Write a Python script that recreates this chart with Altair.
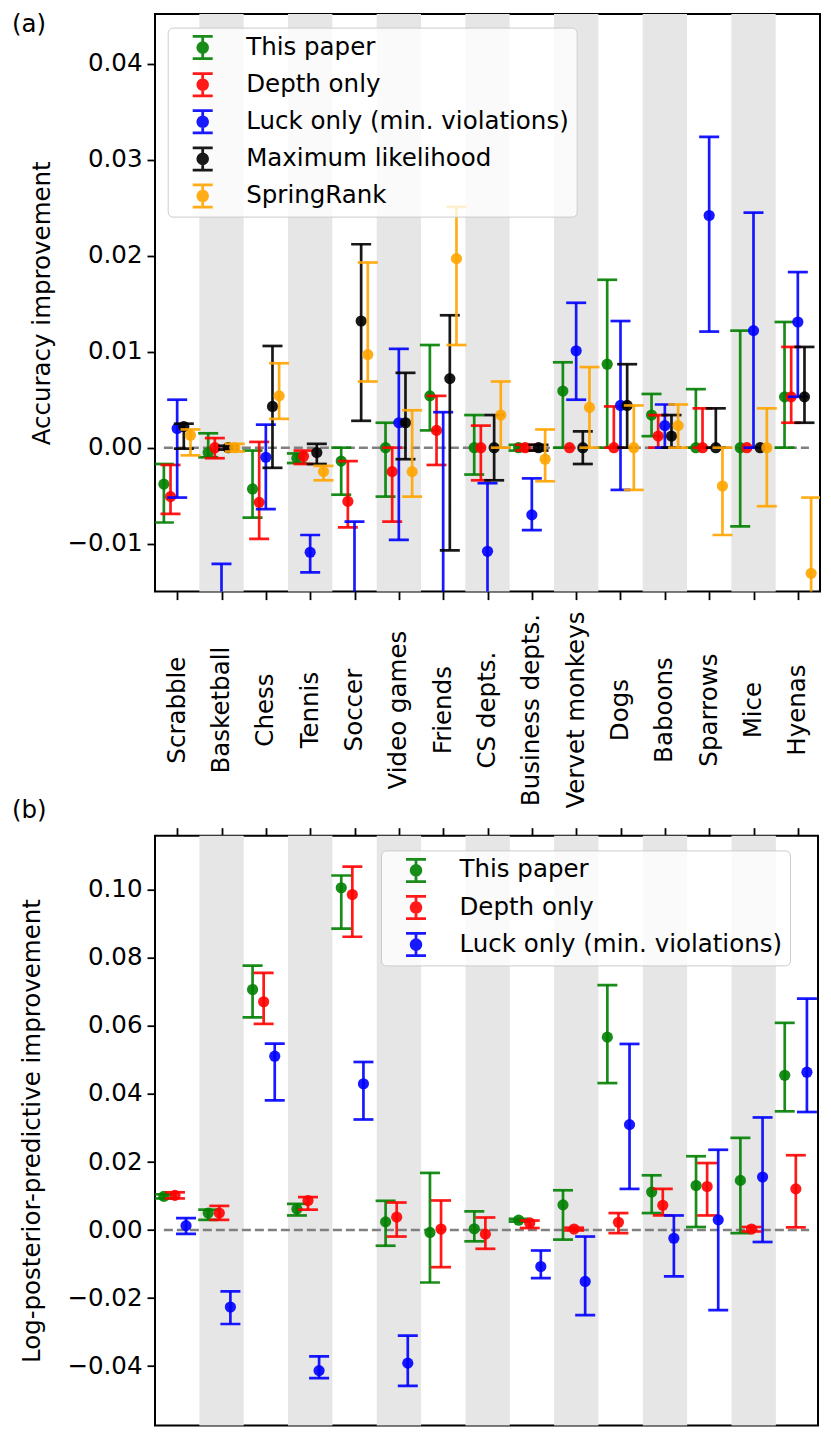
import json
import math
import altair as alt
import pandas as pd

categories = ["Scrabble", "Basketball", "Chess", "Tennis", "Soccer", "Video games", "Friends",
              "CS depts.", "Business depts.", "Vervet monkeys", "Dogs", "Baboons", "Sparrows",
              "Mice", "Hyenas"]

series_a = ["This paper", "Depth only", "Luck only (min. violations)", "Maximum likelihood", "SpringRank"]
colors_a = ["green", "red", "blue", "black", "orange"]
series_b = ["This paper", "Depth only", "Luck only (min. violations)"]
colors_b = ["green", "red", "blue"]

# ---- panel (a): accuracy improvement (value, lower, upper) ----
acc_this = [-0.0038, -0.0005, -0.0043, -0.0011, -0.0014, 0.0000, 0.0054, 0.0000, 0.0000, 0.0059, 0.0087, 0.0034, 0.0000, 0.0000, 0.0053]
acc_this_lo = [-0.0078, -0.0010, -0.0073, -0.0016, -0.0049, -0.0051, 0.0018, -0.0028, -0.0003, 0.0000, 0.0000, 0.0012, 0.0000, -0.0082, 0.0000]
acc_this_hi = [-0.0017, 0.0015, -0.0003, -0.0006, 0.0000, 0.0026, 0.0107, 0.0034, 0.0003, 0.0089, 0.0175, 0.0056, 0.0061, 0.0122, 0.0131]

acc_depth = [-0.0051, 0.0000, -0.0057, -0.0009, -0.0056, -0.0025, 0.0018, 0.0000, 0.0000, 0.0000, 0.0000, 0.0012, 0.0000, 0.0000, 0.0053]
acc_depth_lo = [-0.0069, -0.0011, -0.0095, -0.0017, -0.0083, -0.0077, -0.0018, -0.0034, -0.0003, None, 0.0000, 0.0000, 0.0000, None, 0.0026]
acc_depth_hi = [-0.0018, 0.0010, 0.0006, -0.0003, -0.0014, 0.0000, 0.0054, 0.0023, 0.0003, None, 0.0043, 0.0034, 0.0041, None, 0.0105]

acc_luck = [0.0020, -0.0200, -0.0010, -0.0109, -0.0220, 0.0026, -0.0180, -0.0108, -0.0070, 0.0101, 0.0044, 0.0023, 0.0242, 0.0122, 0.0131]
acc_luck_lo = [-0.0052, -0.0280, -0.0064, -0.0130, -0.0360, -0.0096, -0.0400, -0.0200, -0.0086, 0.0050, -0.0044, 0.0000, 0.0121, 0.0000, 0.0053]
acc_luck_hi = [0.0050, -0.0121, 0.0024, -0.0091, -0.0077, 0.0103, 0.0037, -0.0037, -0.0032, 0.0151, 0.0132, 0.0045, 0.0324, 0.0245, 0.0183]

acc_ml = [0.0022, 0.0000, 0.0043, -0.0005, 0.0132, 0.0026, 0.0072, 0.0000, 0.0000, 0.0000, 0.0044, 0.0012, 0.0000, 0.0000, 0.0053]
acc_ml_lo = [-0.0001, -0.0002, -0.0021, -0.0017, 0.0028, -0.0012, -0.0107, -0.0034, -0.0003, -0.0017, 0.0000, 0.0000, 0.0000, None, 0.0026]
acc_ml_hi = [0.0025, 0.0002, 0.0106, 0.0004, 0.0212, 0.0078, 0.0138, 0.0034, 0.0003, 0.0017, 0.0087, 0.0034, 0.0041, None, 0.0105]

acc_spring = [0.0013, 0.0000, 0.0054, -0.0025, 0.0097, -0.0025, 0.0197, 0.0034, -0.0012, 0.0042, 0.0000, 0.0023, -0.0040, 0.0000, -0.0131]
acc_spring_lo = [-0.0008, -0.0004, 0.0030, -0.0034, 0.0069, -0.0051, 0.0107, 0.0000, -0.0035, 0.0000, -0.0044, 0.0000, -0.0091, -0.0061, -0.0210]
acc_spring_hi = [0.0019, 0.0004, 0.0088, -0.0019, 0.0193, 0.0039, 0.0251, 0.0069, 0.0019, 0.0084, 0.0044, 0.0045, 0.0000, 0.0041, -0.0052]

# ---- panel (b): log-posterior-predictive improvement ----
lpp_this = [0.0099, 0.0050, 0.0707, 0.0062, 0.1006, 0.0024, -0.0007, 0.0004, 0.0029, 0.0074, 0.0567, 0.0112, 0.0131, 0.0146, 0.0455]
lpp_this_lo = [0.0093, 0.0030, 0.0625, 0.0043, 0.0886, -0.0046, -0.0154, -0.0033, 0.0025, -0.0028, 0.0432, 0.0050, 0.0009, -0.0009, 0.0349]
lpp_this_hi = [0.0105, 0.0060, 0.0777, 0.0077, 0.1042, 0.0086, 0.0168, 0.0055, 0.0033, 0.0117, 0.0720, 0.0161, 0.0217, 0.0271, 0.0609]

lpp_depth = [0.0102, 0.0050, 0.0671, 0.0087, 0.0986, 0.0038, 0.0003, -0.0012, 0.0021, 0.0003, 0.0023, 0.0073, 0.0128, 0.0003, 0.0121]
lpp_depth_lo = [0.0093, 0.0030, 0.0606, 0.0060, 0.0862, -0.0019, -0.0109, -0.0055, 0.0006, -0.0001, -0.0009, 0.0043, 0.0043, -0.0004, 0.0008]
lpp_depth_hi = [0.0111, 0.0071, 0.0756, 0.0097, 0.1068, 0.0081, 0.0087, 0.0037, 0.0028, 0.0007, 0.0050, 0.0121, 0.0197, 0.0009, 0.0220]

lpp_luck = [0.0013, -0.0226, 0.0511, -0.0413, 0.0430, -0.0391, None, None, -0.0107, -0.0151, 0.0310, -0.0024, 0.0030, 0.0156, 0.0464]
lpp_luck_lo = [-0.0011, -0.0276, 0.0381, -0.0435, 0.0325, -0.0458, None, None, -0.0141, -0.0250, 0.0121, -0.0136, -0.0235, -0.0035, 0.0347]
lpp_luck_hi = [0.0035, -0.0180, 0.0548, -0.0371, 0.0494, -0.0310, None, None, -0.0060, -0.0019, 0.0547, 0.0043, 0.0236, 0.0331, 0.0680]

ticks_a = [-0.01, 0.0, 0.01, 0.02, 0.03, 0.04]
ticks_b = [-0.04, -0.02, 0.0, 0.02, 0.04, 0.06, 0.08, 0.10]

FONT = "DejaVu Sans"
FS = 24.5

# legend glyph: error bar with caps and a dot (all filled shapes)
circ = "M" + "L".join(
    f"{0.5 * math.cos(2 * math.pi * k / 24):.3f},{0.5 * math.sin(2 * math.pi * k / 24):.3f}"
    for k in range(24)) + "Z"
SYM = "M-0.8,-1H0.8V-0.78H-0.8Z M-0.11,-1H0.11V1H-0.11Z M-0.8,0.78H0.8V1H-0.8Z " + circ


def make_legend(lx, ly):
    return alt.Legend(
        orient="none", legendX=lx, legendY=ly, direction="vertical", title=None,
        symbolType=SYM, symbolSize=625, symbolStrokeWidth=0, symbolOffset=15,
        labelOffset=31, labelFontSize=FS, labelFont=FONT, labelColor="black",
        labelLimit=1000, labelBaseline="middle", padding=7.5, rowPadding=11.1,
        fillColor="rgba(255,255,255,0.8)", strokeColor="#cccccc", cornerRadius=5)


def make_panel(names, colors, vals, los, his, offsets, xdom, ydom, yticks, width, height,
               legend, ytitle, title_pad, xaxis, tag, tag_y):
    rows = []
    for j, name in enumerate(names):
        for i in range(len(categories)):
            rows.append(dict(series=name, x=i + offsets[j], v=vals[j][i], lo=los[j][i], hi=his[j][i]))
    df = pd.DataFrame(rows)

    xs = alt.Scale(domain=xdom, nice=False, zero=False)
    ys = alt.Scale(domain=ydom, nice=False, zero=False)
    yaxis = alt.Axis(values=yticks, format=".2f", labelFontSize=FS, labelFont=FONT, labelColor="black",
                     titleFontSize=FS, titleFont=FONT, titleColor="black", titleFontWeight="normal",
                     title=ytitle, titlePadding=title_pad, tickSize=8, tickWidth=1.8, tickColor="black",
                     domain=False, grid=False, labelPadding=5)
    cscale = alt.Scale(domain=names, range=colors)

    bands_df = pd.DataFrame({"b0": [i - 0.5 for i in range(1, len(categories), 2)],
                             "b1": [i + 0.5 for i in range(1, len(categories), 2)]})
    zero_df = pd.DataFrame({"z0": [-0.3], "z1": [len(categories) - 1 + 0.25], "zy": [0.0]})

    X = lambda f: alt.X(f, scale=xs, axis=xaxis)
    Y = lambda f: alt.Y(f, scale=ys, axis=yaxis)

    layers = [
        alt.Chart(bands_df).mark_rect(color="#e6e6e6").encode(x=X("b0:Q"), x2="b1:Q"),
        alt.Chart(zero_df).mark_rule(color="gray", strokeWidth=2.5, strokeDash=[9, 4]).encode(
            x=X("z0:Q"), x2="z1:Q", y=Y("zy:Q")),
    ]
    for j, name in enumerate(names):
        sub = df[df.series == name]
        bars = sub.dropna(subset=["lo", "hi"])
        pts = sub.dropna(subset=["v"])
        col = colors[j]
        layers.append(alt.Chart(bars).mark_rule(color=col, strokeWidth=2.7, opacity=0.9, clip=True).encode(
            x=X("x:Q"), y=Y("lo:Q"), y2="hi:Q"))
        layers.append(alt.Chart(bars).mark_tick(color=col, orient="horizontal", size=20, thickness=2.7,
                                                opacity=0.9, clip=True).encode(
            x=X("x:Q"), y=Y("lo:Q")))
        layers.append(alt.Chart(bars).mark_tick(color=col, orient="horizontal", size=20, thickness=2.7,
                                                opacity=0.9, clip=True).encode(
            x=X("x:Q"), y=Y("hi:Q")))
        layers.append(alt.Chart(pts).mark_circle(size=125, opacity=0.9, clip=True).encode(
            x=X("x:Q"), y=Y("v:Q"),
            color=alt.Color("series:N", scale=cscale, legend=legend)))

    layers.append(alt.Chart(alt.Data(values=[{"t": tag}])).mark_text(
        align="left", baseline="top", fontSize=FS, font=FONT, color="black").encode(
        x=alt.value(-143), y=alt.value(tag_y), text="t:N"))

    return alt.layer(*layers).properties(width=width, height=height)


label_expr = json.dumps(categories) + "[datum.value]"
xaxis_a = alt.Axis(values=list(range(len(categories))), labelExpr=label_expr, labelAngle=-90,
                   labelAlign="center", labelBaseline="middle", labelPadding=110, labelFontSize=FS,
                   labelFont=FONT, labelColor="black", labelLimit=1000, labelFlush=False,
                   labelOverlap=False, tickSize=8, tickWidth=1.8, tickColor="black",
                   domain=False, grid=False, title=None)
xaxis_b = alt.Axis(values=list(range(len(categories))), orient="top", labels=False, tickSize=8,
                   tickWidth=1.8, tickColor="black", domain=False, grid=False, title=None)

panel_a = make_panel(
    series_a, colors_a,
    [acc_this, acc_depth, acc_luck, acc_ml, acc_spring],
    [acc_this_lo, acc_depth_lo, acc_luck_lo, acc_ml_lo, acc_spring_lo],
    [acc_this_hi, acc_depth_hi, acc_luck_hi, acc_ml_hi, acc_spring_hi],
    [-0.3, -0.15, 0.0, 0.15, 0.3],
    [-0.5, 14.5], [-0.015, 0.0452], ticks_a, 665, 577.6,
    make_legend(12.7, 13.6), "Accuracy improvement", 12, xaxis_a, "(a)", -0.7)

panel_b = make_panel(
    series_b, colors_b,
    [lpp_this, lpp_depth, lpp_luck],
    [lpp_this_lo, lpp_depth_lo, lpp_luck_lo],
    [lpp_this_hi, lpp_depth_hi, lpp_luck_hi],
    [-0.3, -0.05, 0.2],
    [-0.5, 14.45], [-0.0574, 0.1159], ticks_b, 663, 589.7,
    make_legend(226, 14.7), "Log-posterior-predictive improvement", 22, xaxis_b, "(b)", -37)

chart = alt.vconcat(panel_a, panel_b, spacing=243.7, bounds="flush").resolve_scale(
    x="independent", y="independent", color="independent").resolve_legend(
    color="independent").properties(
    padding={"left": 3, "top": 3, "right": 0, "bottom": 0}).configure(font=FONT).configure_view(
    stroke="black", strokeWidth=2)

chart.save("out.html", embed_options={"renderer": "svg", "actions": False})
